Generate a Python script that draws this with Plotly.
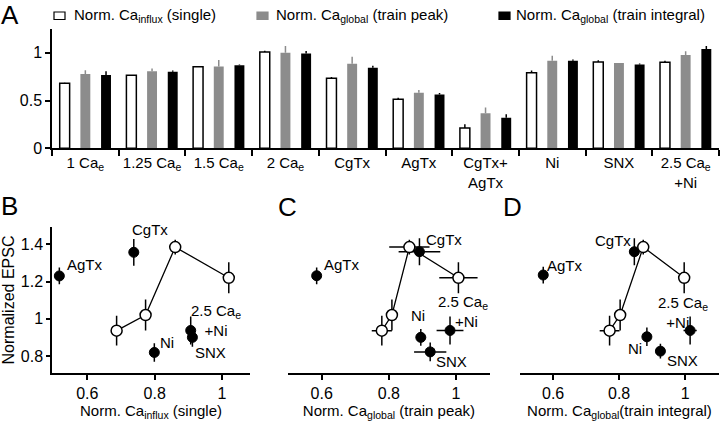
import plotly.graph_objects as go

FONT = "Liberation Sans, Arial, sans-serif"
W, H = 720, 425

# ---------------- Panel A data ----------------
categories = ["1 Ca<sub>e</sub>", "1.25 Ca<sub>e</sub>", "1.5 Ca<sub>e</sub>", "2 Ca<sub>e</sub>",
              "CgTx", "AgTx", "CgTx+<br>AgTx", "Ni", "SNX", "2.5 Ca<sub>e</sub><br>+Ni"]
influx = [0.68, 0.763, 0.854, 1.007, 0.732, 0.512, 0.213, 0.79, 0.902, 0.899]
influx_err = [0.005, 0.005, 0.005, 0.013, 0.014, 0.017, 0.038, 0.025, 0.02, 0.017]
peak = [0.777, 0.805, 0.857, 1.0, 0.885, 0.582, 0.366, 0.916, 0.892, 0.976]
peak_err = [0.04, 0.03, 0.066, 0.07, 0.073, 0.028, 0.06, 0.053, 0.0, 0.04]
integ = [0.767, 0.80, 0.868, 0.993, 0.843, 0.564, 0.32, 0.916, 0.878, 1.038]
integ_err = [0.04, 0.015, 0.01, 0.025, 0.021, 0.014, 0.035, 0.014, 0.01, 0.032]

# ---------------- Panels B-D data ----------------
# open circles: 1, 1.25, 1.5, 2 Ca_e
ca_epsc = [0.936, 1.02, 1.385, 1.22]
ca_epsc_err = [0.08, 0.083, 0.04, 0.083]
ca_x_B = [0.687, 0.773, 0.861, 1.02]
ca_x_C = [0.779, 0.809, 0.861, 1.007]
ca_xerr_C = [0.03, 0.015, 0.06, 0.057]
ca_x_D = [0.771, 0.803, 0.873, 0.997]
ca_xerr_D = [0.03, 0.01, 0.015, 0.01]

# filled circles: AgTx, CgTx, Ni, SNX, 2.5 Ca_e + Ni
drug_names = ["AgTx", "CgTx", "Ni", "SNX", "2.5 Ca<sub>e</sub> +Ni"]
drug_x_B = [0.517, 0.738, 0.799, 0.912, 0.907]
drug_y_B = [1.23, 1.357, 0.819, 0.9, 0.937]
drug_yerr_B = [0.045, 0.072, 0.05, 0.05, 0.075]
drug_x_C = [0.585, 0.891, 0.895, 0.923, 0.982]
drug_xerr_C = [0.01, 0.062, 0.01, 0.048, 0.04]
drug_y_C = [1.231, 1.36, 0.9, 0.822, 0.937]
drug_yerr_C = [0.045, 0.072, 0.045, 0.05, 0.075]
drug_x_D = [0.57, 0.846, 0.884, 0.925, 1.015]
drug_xerr_D = [0.005, 0.015, 0.005, 0.005, 0.02]
drug_y_D = [1.235, 1.36, 0.903, 0.826, 0.937]
drug_yerr_D = [0.045, 0.072, 0.05, 0.04, 0.075]

GRAY = "#8c8c8c"

fig = go.Figure()

zeros = [0] * len(categories)
fig.add_trace(go.Bar(x=categories, y=influx, name="influx", showlegend=False,
                     marker=dict(color="white", line=dict(color="black", width=1.5)),
                     error_y=dict(type="data", array=influx_err, arrayminus=zeros, symmetric=False,
                                  color="black", thickness=1.5, width=0),
                     xaxis="x", yaxis="y"))
fig.add_trace(go.Bar(x=categories, y=peak, name="peak", showlegend=False,
                     marker=dict(color=GRAY, line=dict(width=0)),
                     error_y=dict(type="data", array=peak_err, arrayminus=zeros, symmetric=False,
                                  color=GRAY, thickness=1.5, width=0),
                     xaxis="x", yaxis="y"))
fig.add_trace(go.Bar(x=categories, y=integ, name="integral", showlegend=False,
                     marker=dict(color="black", line=dict(width=0)),
                     error_y=dict(type="data", array=integ_err, arrayminus=zeros, symmetric=False,
                                  color="black", thickness=1.5, width=0),
                     xaxis="x", yaxis="y"))


def add_panel(xa, ya, cx, cxerr, dx, dxerr, dy, dyerr):
    fig.add_trace(go.Scatter(
        x=dx, y=dy, mode="markers", showlegend=False, xaxis=xa, yaxis=ya,
        marker=dict(size=10, color="black", line=dict(color="black", width=1)),
        error_y=dict(type="data", array=dyerr, color="black", thickness=1.5, width=0),
        error_x=dict(type="data", array=dxerr, color="black", thickness=1.5, width=0) if dxerr else None,
    ))
    fig.add_trace(go.Scatter(
        x=cx, y=ca_epsc, mode="lines+markers", showlegend=False, xaxis=xa, yaxis=ya,
        line=dict(color="black", width=1.3),
        marker=dict(size=11, color="white", line=dict(color="black", width=1.5)),
        error_y=dict(type="data", array=ca_epsc_err, color="black", thickness=1.5, width=0),
        error_x=dict(type="data", array=cxerr, color="black", thickness=1.5, width=0) if cxerr else None,
    ))


add_panel("x2", "y2", ca_x_B, None, drug_x_B, None, drug_y_B, drug_yerr_B)
add_panel("x3", "y3", ca_x_C, ca_xerr_C, drug_x_C, drug_xerr_C, drug_y_C, drug_yerr_C)
add_panel("x4", "y4", ca_x_D, ca_xerr_D, drug_x_D, drug_xerr_D, drug_y_D, drug_yerr_D)

tickfont = dict(family=FONT, size=16, color="black")
titlefont = dict(family=FONT, size=15, color="black")


def px(v):
    return v / W


def py(v):
    return (H - v) / H


yr = [0.707, 1.4945]
ydom = [py(373.3), py(226.7)]

layout = dict(
    width=W, height=H, margin=dict(l=0, r=0, t=0, b=0, autoexpand=False),
    paper_bgcolor="white", plot_bgcolor="white",
    font=dict(family=FONT, size=15, color="black"),
    barmode="group", bargap=0.07, bargroupgap=0.52,
    showlegend=False,
    xaxis=dict(domain=[px(52), px(719)], type="category", range=[-0.5, 9.5],
               showline=True, linecolor="black", linewidth=1.5, ticks="outside",
               tickson="boundaries", ticklen=6, tickwidth=1.5, tickcolor="black",
               tickangle=0, tickfont=dict(family=FONT, size=15, color="black"),
               showgrid=False, zeroline=False, anchor="y", automargin=False),
    yaxis=dict(domain=[py(148.3), py(29.3)], range=[0, 1.245],
               showline=True, linecolor="black", linewidth=1.5, ticks="outside",
               ticklen=5, tickwidth=1.5, tickcolor="black",
               tickvals=[0, 0.5, 1], ticktext=["0", "0.5", "1"],
               tickfont=tickfont, showgrid=False, zeroline=False, anchor="x", automargin=False),
)

xspecs = {
    "xaxis2": ([52, 250], [0.4952, 1.083], "Norm. Ca<sub>influx</sub> (single)", "y2"),
    "xaxis3": ([288, 490], [0.4997, 1.101], "Norm. Ca<sub>global</sub> (train peak)", "y3"),
    "xaxis4": ([520, 719], [0.4996, 1.1025], "Norm. Ca<sub>global</sub>(train integral)", "y4"),
}
for key, (dom, rng, title, anc) in xspecs.items():
    layout[key] = dict(domain=[px(dom[0]), px(dom[1])], range=rng,
                       showline=True, linecolor="black", linewidth=1.5, ticks="outside",
                       ticklen=5, tickwidth=1.5, tickcolor="black",
                       ticklabelstandoff=0, automargin=False,
                       tickvals=[0.6, 0.8, 1.0], ticktext=["0.6", "0.8", "1"],
                       tickfont=tickfont, showgrid=False, zeroline=False, anchor=anc,
                       title=dict(text=title, font=titlefont, standoff=2))

layout["yaxis2"] = dict(domain=ydom, range=yr, anchor="x2", automargin=False,
                        showline=True, linecolor="black", linewidth=1.5, ticks="outside",
                        ticklen=4, tickwidth=1.5, tickcolor="black",
                        tickvals=[0.8, 1.0, 1.2, 1.4], ticktext=["0.8", "1", "1.2", "1.4"],
                        tickfont=tickfont, showgrid=False, zeroline=False,
                        title=dict(text="Normalized EPSC", font=dict(family=FONT, size=16, color="black"),
                                   standoff=6))
layout["yaxis3"] = dict(domain=ydom, range=yr, anchor="x3", visible=False)
layout["yaxis4"] = dict(domain=ydom, range=yr, anchor="x4", visible=False)

fig.update_layout(**layout)

# ---------- panel letters ----------
for letter, (lx, ly) in {"A": (9.5, 15), "B": (9.5, 206), "C": (287, 207), "D": (512, 207)}.items():
    fig.add_annotation(text=letter, x=px(lx), y=py(ly), xref="paper", yref="paper",
                       showarrow=False, xanchor="center", yanchor="middle",
                       font=dict(family=FONT, size=26, color="black"))

# ---------- legend for panel A ----------
legend_items = [
    ("Norm. Ca<sub>influx</sub> (single)", "white", 54, 72),
    ("Norm. Ca<sub>global</sub> (train peak)", GRAY, 257, 274),
    ("Norm. Ca<sub>global</sub> (train integral)", "black", 499, 514),
]
for txt, col, sx, tx in legend_items:
    fig.add_shape(type="rect", xref="paper", yref="paper",
                  x0=px(sx), x1=px(sx + 11), y0=py(19.5), y1=py(12),
                  fillcolor=col, line=dict(color="black" if col == "white" else col, width=1.2))
    fig.add_annotation(text=txt, x=px(tx), y=py(15.5), xref="paper", yref="paper",
                       showarrow=False, xanchor="left", yanchor="middle",
                       font=dict(family=FONT, size=15, color="black"))

# ---------- point labels ----------
lab = dict(family=FONT, size=15, color="black")
labels = [
    ("x2", "y2", "CgTx", 0.786, 1.477, "center"),
    ("x2", "y2", "AgTx", 0.537, 1.294, "left"),
    ("x2", "y2", "Ni", 0.813, 0.87, "left"),
    ("x2", "y2", "2.5 Ca<sub>e</sub><br>+Ni", 0.982, 0.99, "center"),
    ("x2", "y2", "SNX", 0.917, 0.819, "left"),
    ("x3", "y3", "CgTx", 0.908, 1.428, "left"),
    ("x3", "y3", "AgTx", 0.605, 1.294, "left"),
    ("x3", "y3", "2.5 Ca<sub>e</sub>", 0.942, 1.085, "left"),
    ("x3", "y3", "+Ni", 0.994, 0.983, "left"),
    ("x3", "y3", "Ni", 0.887, 1.02, "center"),
    ("x3", "y3", "SNX", 0.937, 0.768, "left"),
    ("x4", "y4", "CgTx", 0.84, 1.418, "right"),
    ("x4", "y4", "AgTx", 0.578, 1.288, "left"),
    ("x4", "y4", "2.5 Ca<sub>e</sub><br>  +Ni", 0.915, 1.031, "left"),
    ("x4", "y4", "Ni", 0.873, 0.838, "right"),
    ("x4", "y4", "SNX", 0.942, 0.774, "left"),
]
for xr, yrf, t, x, y, anc in labels:
    fig.add_annotation(text=t, x=x, y=y, xref=xr, yref=yrf, showarrow=False,
                       xanchor=anc, yanchor="middle", font=lab, borderpad=0, align="left" if anc == "left" else "center")

fig.write_html("out.html", config={"displayModeBar": False},
               post_script="document.body.style.margin='0px';document.body.style.overflow='hidden';")
